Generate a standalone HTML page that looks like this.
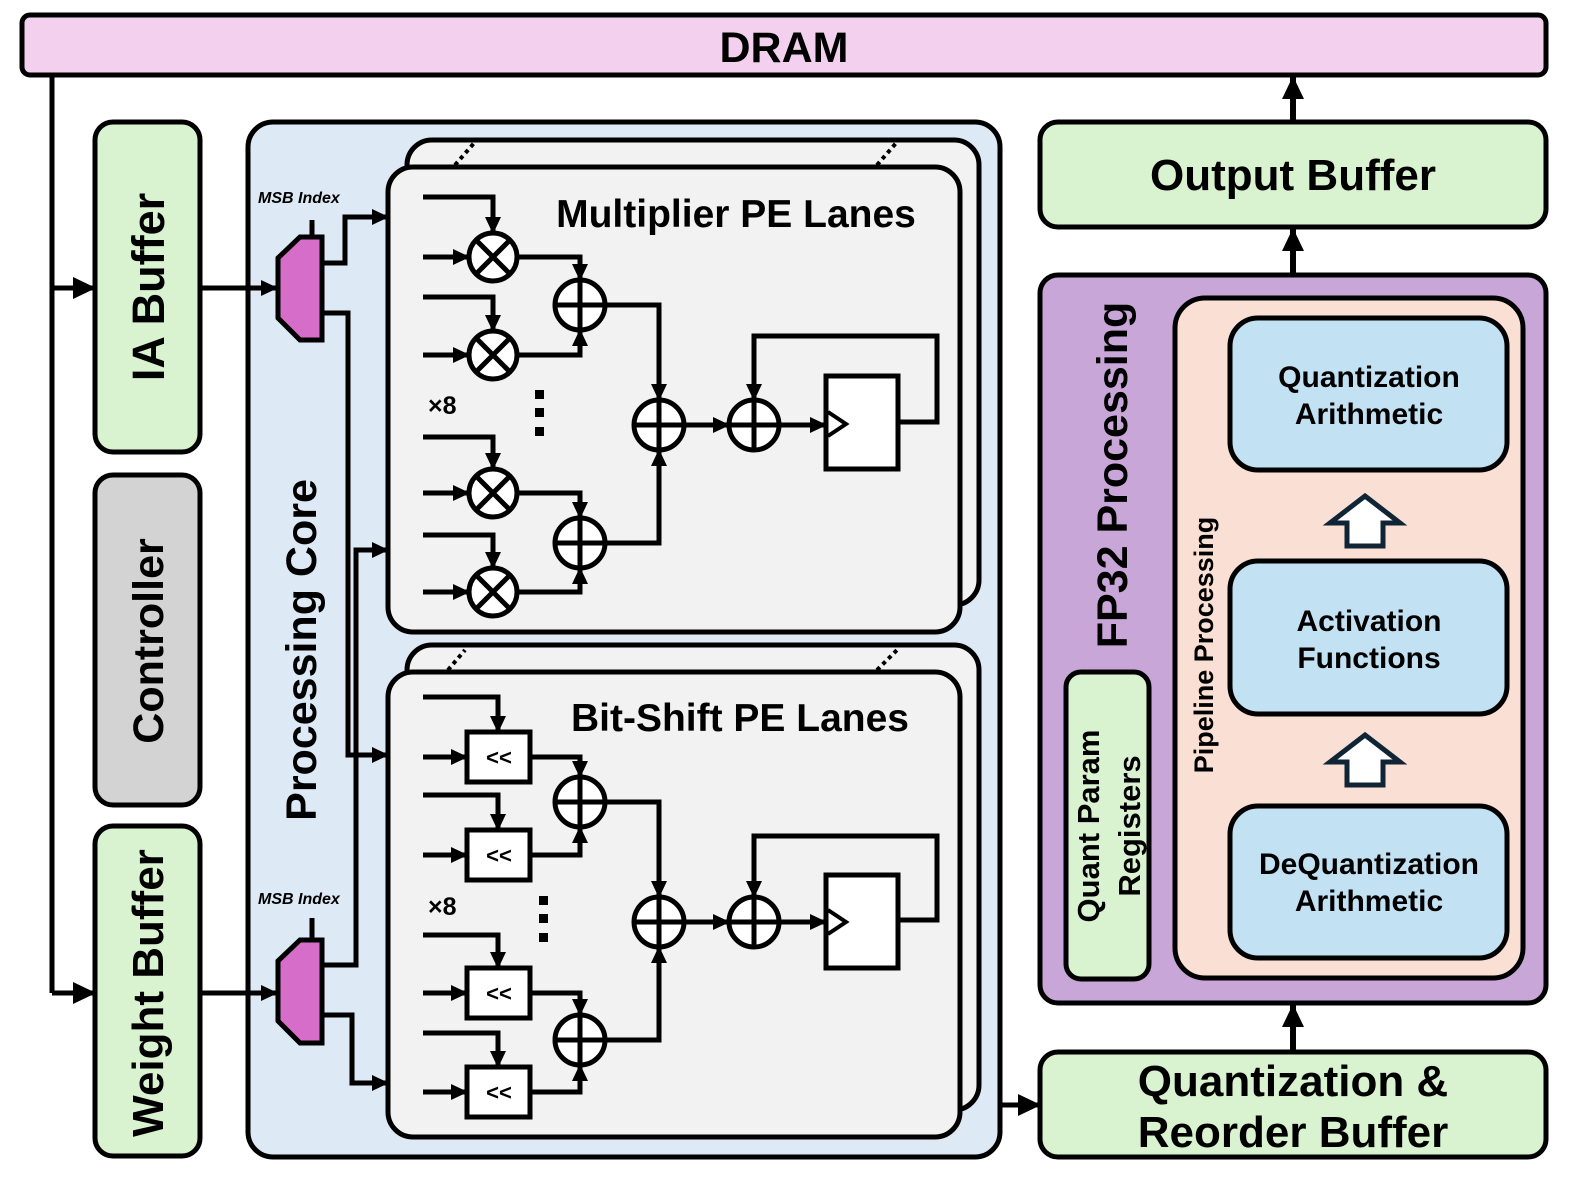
<!DOCTYPE html>
<html><head><meta charset="utf-8"><style>
html,body{margin:0;padding:0;background:#fff}
svg{display:block}
text{font-family:"Liberation Sans",sans-serif;font-weight:bold;fill:#000}
</style></head><body>
<svg width="1578" height="1183" viewBox="0 0 1578 1183" xmlns="http://www.w3.org/2000/svg">
<defs>
<marker id="a" markerUnits="userSpaceOnUse" markerWidth="20" markerHeight="20" refX="16" refY="9" orient="auto">
<path d="M0,1 L17,9 L0,17 Z" fill="#000"/></marker>
<marker id="b" markerUnits="userSpaceOnUse" markerWidth="26" markerHeight="26" refX="22" refY="12" orient="auto">
<path d="M0,1 L23,12 L0,23 Z" fill="#000"/></marker>
<g id="mul"><circle r="24" fill="#fff" stroke="#000" stroke-width="5"/><path d="M-17,-17L17,17M17,-17L-17,17" stroke="#000" stroke-width="5"/></g>
<g id="add"><circle r="25" fill="#fff" stroke="#000" stroke-width="5"/><path d="M-25,0H25M0,-25V25" stroke="#000" stroke-width="5"/></g>
<g id="sh"><rect x="-31" y="-25" width="63" height="50" fill="#fff" stroke="#000" stroke-width="5"/><text x="1" y="8" font-size="22" font-weight="normal" text-anchor="middle">&lt;&lt;</text></g>
</defs>

<rect x="22" y="15" width="1524" height="60" rx="8" fill="#f2d0ee" stroke="#000" stroke-width="5"/>
<text x="784" y="62" font-size="43" text-anchor="middle">DRAM</text>

<path d="M52,75V993" stroke="#000" stroke-width="5" fill="none"/>
<path d="M52,288H95" stroke="#000" stroke-width="5" marker-end="url(#b)"/>
<path d="M52,993H95" stroke="#000" stroke-width="5" marker-end="url(#b)"/>

<rect x="95" y="122" width="105" height="330" rx="18" fill="#d9f2d0" stroke="#000" stroke-width="5"/>
<text transform="translate(164,287) rotate(-90)" font-size="45" text-anchor="middle">IA Buffer</text>
<rect x="95" y="475" width="105" height="330" rx="18" fill="#d3d3d3" stroke="#000" stroke-width="5"/>
<text transform="translate(163,641) rotate(-90)" font-size="43" text-anchor="middle">Controller</text>
<rect x="95" y="826" width="105" height="330" rx="18" fill="#d9f2d0" stroke="#000" stroke-width="5"/>
<text transform="translate(163,993) rotate(-90)" font-size="44" text-anchor="middle">Weight Buffer</text>

<rect x="248" y="122" width="752" height="1035" rx="25" fill="#dde9f5" stroke="#000" stroke-width="5"/>
<text transform="translate(316,650) rotate(-90)" font-size="43" text-anchor="middle">Processing Core</text>

<path d="M200,288H277" stroke="#000" stroke-width="5" marker-end="url(#a)"/>
<path d="M200,993H277" stroke="#000" stroke-width="5" marker-end="url(#a)"/>

<text x="258" y="203" font-size="16" font-style="italic">MSB Index</text>
<path d="M312,220V237" stroke="#000" stroke-width="5"/>
<polygon points="322,237 300,237 278,258 278,318 300,340 322,340" fill="#d66dc8" stroke="#000" stroke-width="5"/>
<text x="258" y="904" font-size="16" font-style="italic">MSB Index</text>
<path d="M312,918V940" stroke="#000" stroke-width="5"/>
<polygon points="322,940 300,940 278,961 278,1021 300,1043 322,1043" fill="#d66dc8" stroke="#000" stroke-width="5"/>

<g stroke="#000" stroke-width="5" fill="none">
<path d="M322,263H345V217H388" marker-end="url(#a)"/>
<path d="M322,313H348V755H388" marker-end="url(#a)"/>
<path d="M322,965H356V550H388" marker-end="url(#a)"/>
<path d="M322,1015H352V1083H388" marker-end="url(#a)"/>
</g>

<rect x="407" y="140" width="572" height="465" rx="25" fill="#f2f2f2" stroke="#000" stroke-width="5"/>
<path d="M455,165L475,142M877,165L897,142" stroke="#000" stroke-width="4" stroke-dasharray="4,4"/>
<rect x="388" y="167" width="572" height="465" rx="25" fill="#f2f2f2" stroke="#000" stroke-width="5"/>
<text x="736" y="227" font-size="39" text-anchor="middle">Multiplier PE Lanes</text>
<g stroke="#000" stroke-width="5" fill="none">
<path d="M423,197H493V233" marker-end="url(#a)"/><path d="M423,257H469" marker-end="url(#a)"/>
<path d="M423,297H493V331" marker-end="url(#a)"/><path d="M423,355H469" marker-end="url(#a)"/>
<path d="M423,437H493V469" marker-end="url(#a)"/><path d="M423,493H469" marker-end="url(#a)"/>
<path d="M423,535H493V568" marker-end="url(#a)"/><path d="M423,592H469" marker-end="url(#a)"/>
<path d="M517,257H580V280" marker-end="url(#a)"/><path d="M517,355H580V330" marker-end="url(#a)"/>
<path d="M517,493H580V518" marker-end="url(#a)"/><path d="M517,592H580V568" marker-end="url(#a)"/>
<path d="M605,305H659V400" marker-end="url(#a)"/><path d="M605,543H659V450" marker-end="url(#a)"/>
<path d="M684,425H729" marker-end="url(#a)"/><path d="M779,425H826" marker-end="url(#a)"/>
<path d="M898,422H937V336H754V400" marker-end="url(#a)"/>
</g>
<use href="#mul" x="493" y="257"/><use href="#mul" x="493" y="355"/><use href="#mul" x="493" y="493"/><use href="#mul" x="493" y="592"/>
<use href="#add" x="580" y="305"/><use href="#add" x="580" y="543"/><use href="#add" x="659" y="425"/><use href="#add" x="754" y="425"/>
<rect x="826" y="376" width="72" height="93" fill="#fff" stroke="#000" stroke-width="5"/>
<path d="M828,412L846,424L828,436" stroke="#000" stroke-width="4" fill="none"/>
<text x="428" y="414" font-size="25" font-weight="normal">×8</text>
<rect x="535" y="390" width="9" height="9"/><rect x="535" y="408" width="9" height="9"/><rect x="535" y="427" width="9" height="9"/>

<rect x="407" y="645" width="572" height="465" rx="25" fill="#f2f2f2" stroke="#000" stroke-width="5"/>
<path d="M448,670L465,650M877,670L897,650" stroke="#000" stroke-width="4" stroke-dasharray="4,4"/>
<rect x="388" y="672" width="572" height="465" rx="25" fill="#f2f2f2" stroke="#000" stroke-width="5"/>
<text x="740" y="731" font-size="39" text-anchor="middle">Bit-Shift PE Lanes</text>
<g stroke="#000" stroke-width="5" fill="none">
<path d="M423,697H498V732" marker-end="url(#a)"/><path d="M423,757H467" marker-end="url(#a)"/>
<path d="M423,795H498V830" marker-end="url(#a)"/><path d="M423,855H467" marker-end="url(#a)"/>
<path d="M423,935H498V968" marker-end="url(#a)"/><path d="M423,993H467" marker-end="url(#a)"/>
<path d="M423,1033H498V1067" marker-end="url(#a)"/><path d="M423,1092H467" marker-end="url(#a)"/>
<path d="M530,757H580V777" marker-end="url(#a)"/><path d="M530,855H580V827" marker-end="url(#a)"/>
<path d="M530,993H580V1015" marker-end="url(#a)"/><path d="M530,1092H580V1065" marker-end="url(#a)"/>
<path d="M605,802H659V897" marker-end="url(#a)"/><path d="M605,1040H659V947" marker-end="url(#a)"/>
<path d="M684,922H729" marker-end="url(#a)"/><path d="M779,922H826" marker-end="url(#a)"/>
<path d="M898,920H937V836H754V897" marker-end="url(#a)"/>
</g>
<use href="#sh" x="498" y="757"/><use href="#sh" x="498" y="855"/><use href="#sh" x="498" y="993"/><use href="#sh" x="498" y="1092"/>
<use href="#add" x="580" y="802"/><use href="#add" x="580" y="1040"/><use href="#add" x="659" y="922"/><use href="#add" x="754" y="922"/>
<rect x="826" y="875" width="72" height="93" fill="#fff" stroke="#000" stroke-width="5"/>
<path d="M828,910L846,922L828,934" stroke="#000" stroke-width="4" fill="none"/>
<text x="428" y="915" font-size="25" font-weight="normal">×8</text>
<rect x="539" y="896" width="9" height="9"/><rect x="539" y="914" width="9" height="9"/><rect x="539" y="933" width="9" height="9"/>

<path d="M1000,1105H1040" stroke="#000" stroke-width="5" marker-end="url(#b)"/>

<path d="M1293,122V77" stroke="#000" stroke-width="6" marker-end="url(#b)"/>
<path d="M1293,275V229" stroke="#000" stroke-width="6" marker-end="url(#b)"/>
<path d="M1293,1052V1005" stroke="#000" stroke-width="6" marker-end="url(#b)"/>

<rect x="1040" y="122" width="506" height="105" rx="18" fill="#d9f2d0" stroke="#000" stroke-width="5"/>
<text x="1293" y="190" font-size="44" text-anchor="middle">Output Buffer</text>

<rect x="1040" y="275" width="506" height="728" rx="18" fill="#c8a6d8" stroke="#000" stroke-width="5"/>
<text transform="translate(1127,475) rotate(-90)" font-size="43" text-anchor="middle">FP32 Processing</text>

<rect x="1066" y="672" width="83" height="307" rx="15" fill="#d9f2d0" stroke="#000" stroke-width="5"/>
<text transform="translate(1099,826) rotate(-90)" font-size="31" text-anchor="middle">Quant Param</text>
<text transform="translate(1140,826) rotate(-90)" font-size="31" text-anchor="middle">Registers</text>

<rect x="1175" y="298" width="348" height="680" rx="30" fill="#fae0d4" stroke="#000" stroke-width="5"/>
<text transform="translate(1213,645) rotate(-90)" font-size="27" text-anchor="middle">Pipeline Processing</text>

<rect x="1230" y="318" width="277" height="152" rx="28" fill="#c2e2f3" stroke="#000" stroke-width="5"/>
<text x="1369" y="387" font-size="30" text-anchor="middle">Quantization</text>
<text x="1369" y="424" font-size="30" text-anchor="middle">Arithmetic</text>
<rect x="1230" y="561" width="277" height="153" rx="28" fill="#c2e2f3" stroke="#000" stroke-width="5"/>
<text x="1369" y="631" font-size="30" text-anchor="middle">Activation</text>
<text x="1369" y="668" font-size="30" text-anchor="middle">Functions</text>
<rect x="1230" y="806" width="277" height="152" rx="28" fill="#c2e2f3" stroke="#000" stroke-width="5"/>
<text x="1369" y="874" font-size="30" text-anchor="middle">DeQuantization</text>
<text x="1369" y="911" font-size="30" text-anchor="middle">Arithmetic</text>

<polygon points="1365,496 1400,523 1383,523 1383,546 1347,546 1347,523 1330,523" fill="#fff" stroke="#0f2535" stroke-width="5"/>
<polygon points="1365,735 1400,762 1383,762 1383,785 1347,785 1347,762 1330,762" fill="#fff" stroke="#0f2535" stroke-width="5"/>

<rect x="1040" y="1052" width="506" height="105" rx="18" fill="#d9f2d0" stroke="#000" stroke-width="5"/>
<text x="1293" y="1096" font-size="44" text-anchor="middle">Quantization &amp;</text>
<text x="1293" y="1147" font-size="44" text-anchor="middle">Reorder Buffer</text>
</svg>
</body></html>
